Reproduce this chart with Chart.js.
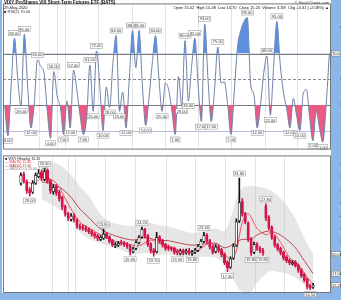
<!DOCTYPE html>
<html>
<head>
<meta charset="utf-8">
<script src="https://cdn.jsdelivr.net/npm/chart.js@4.4.1/dist/chart.umd.min.js"></script>
<style>
    html, body { margin: 0; padding: 0; background: #fff; }
    #wrap { position: relative; width: 341px; height: 300px; overflow: hidden; }
    #rsiChart { position: absolute; left: 0; top: 0; }
    #priceChart { position: absolute; left: 0; top: 152px; }
</style>
</head>
<body>
<div id="wrap">
    <canvas id="rsiChart" width="341" height="152"></canvas>
    <canvas id="priceChart" width="341" height="148"></canvas>
</div>
<script>
// ---- data (100 bars) ----
const rsiValues = [30, 6, 45, 82, 50, 29, 85, 45, 12, 30,
    65, 60, 55, 25, 4, 56, 37, 28, 7, 33,
    12, 57, 42, 22, 7, 20, 61, 25, 72, 45,
    10, 44, 28, 62, 84, 25, 40, 12, 50, 88,
    59, 88, 45, 14, 35, 62, 84, 52, 25, 47,
    42, 25, 7, 52, 29, 80, 33, 60, 82, 45,
    17, 93, 50, 17, 42, 75, 47, 48, 30, 7,
    40, 75, 88, 95, 98, 46, 38, 12, 30, 55,
    68, 22, 60, 95, 62, 40, 27, 12, 35, 22,
    10, 38, 42, 20, 2, 25, 12, 1, 29, 70];

const openPrices = [31.0, 32.4, 31.2, 30.0, 29.6, 31.0, 32.0, 32.7, 31.6, 33.0,
    31.4, 29.7, 30.5, 29.6, 28.8, 27.4, 26.3, 25.4, 26.0, 25.3,
    24.4, 24.3, 24.1, 23.9, 23.6, 23.2, 22.9, 22.3, 22.5, 23.2,
    22.7, 22.1, 21.3, 21.4, 21.9, 21.8, 21.6, 21.3, 20.4, 20.9,
    21.8, 22.7, 23.9, 22.9, 21.6, 20.6, 20.4, 22.7, 22.1, 21.5,
    21.1, 21.0, 20.9, 20.5, 20.1, 20.6, 20.2, 20.6, 20.1, 20.3,
    20.6, 21.2, 22.0, 23.0, 22.1, 21.2, 20.4, 21.2, 20.7, 20.0,
    18.8, 18.0, 19.4, 21.4, 25.2, 28.2, 26.3, 24.8, 22.4, 20.3,
    21.6, 21.0, 20.6, 27.4, 25.8, 24.2, 22.7, 21.5, 20.9, 20.3,
    19.6, 19.1, 18.5, 18.8, 18.3, 17.6, 16.9, 16.1, 15.1, 14.9];

const highPrices = [32.6, 32.7, 31.5, 30.3, 31.4, 32.6, 33.1, 33.0, 33.3, 33.2,
    31.6, 30.8, 30.8, 29.9, 29.0, 27.6, 26.5, 26.3, 26.3, 25.5,
    24.7, 24.6, 24.4, 24.1, 23.8, 23.4, 23.1, 22.9, 23.9, 23.4,
    22.9, 22.3, 21.8, 22.0, 22.2, 22.0, 21.8, 21.5, 21.1, 22.1,
    22.9, 24.2, 24.0, 23.1, 21.8, 20.9, 23.4, 22.9, 22.3, 21.7,
    21.4, 21.2, 21.1, 20.7, 20.8, 20.8, 20.8, 20.9, 20.6, 20.9,
    21.5, 22.3, 23.4, 23.2, 22.3, 21.4, 21.5, 21.4, 20.9, 20.2,
    19.0, 19.6, 21.6, 25.5, 31.8, 28.6, 26.5, 25.0, 22.6, 21.9,
    21.8, 21.2, 20.9, 27.8, 26.0, 24.4, 22.9, 21.7, 21.1, 20.5,
    19.8, 19.3, 19.0, 19.0, 18.5, 17.8, 17.1, 16.3, 15.4, 15.5];

const lowPrices = [30.7, 31.0, 29.4, 29.0, 29.4, 30.8, 31.8, 31.4, 31.4, 31.0,
    29.4, 29.3, 29.1, 28.2, 26.9, 25.9, 25.2, 25.1, 25.0, 24.0,
    23.8, 23.7, 23.5, 23.2, 22.8, 22.5, 22.1, 22.1, 22.3, 22.4,
    21.7, 21.2, 21.0, 21.2, 21.4, 21.2, 20.9, 19.9, 20.2, 20.7,
    21.6, 22.5, 22.5, 21.2, 20.2, 19.7, 20.2, 21.7, 21.1, 20.6,
    20.6, 20.5, 20.0, 19.9, 19.9, 19.9, 20.0, 19.9, 19.8, 20.1,
    20.4, 21.0, 21.8, 21.7, 20.8, 20.0, 20.2, 20.3, 19.6, 18.4,
    17.3, 17.8, 19.2, 21.2, 24.9, 25.9, 24.7, 22.0, 19.8, 20.1,
    20.6, 20.2, 19.8, 25.2, 23.8, 22.3, 21.1, 20.5, 19.9, 19.1,
    18.7, 18.4, 18.3, 18.0, 17.2, 16.4, 15.7, 14.6, 14.5, 14.7];

const closePrices = [32.2, 31.3, 29.8, 29.5, 31.0, 32.2, 32.5, 31.8, 32.8, 31.3,
    29.8, 30.3, 29.5, 28.6, 27.3, 26.2, 25.6, 25.9, 25.3, 24.3,
    24.1, 24.0, 23.8, 23.5, 23.1, 22.8, 22.5, 22.6, 23.1, 22.6,
    22.0, 21.5, 21.5, 21.7, 21.7, 21.5, 21.2, 20.5, 20.8, 21.8,
    22.6, 23.8, 22.8, 21.5, 20.5, 20.2, 22.6, 22.0, 21.4, 20.9,
    20.9, 20.8, 20.3, 20.2, 20.5, 20.2, 20.5, 20.2, 20.3, 20.6,
    21.2, 22.0, 22.9, 22.0, 21.1, 20.3, 21.1, 20.6, 19.9, 18.7,
    17.9, 19.3, 21.2, 25.0, 28.0, 26.2, 25.0, 22.3, 20.2, 21.5,
    20.9, 20.5, 20.2, 25.6, 24.1, 22.6, 21.4, 20.8, 20.2, 19.4,
    19.0, 18.7, 18.7, 18.2, 17.5, 16.7, 16.0, 14.9, 14.8, 15.2];

// bollinger band / moving averages, sampled at a few bars
const bandIdx = [7, 10, 14, 17, 20, 23, 26, 29, 33, 38, 42, 46, 50, 54, 58, 62, 66, 69, 71, 73, 75, 78, 80, 84, 87, 90, 93, 96, 99];
const upperBand = [34.0, 34.3, 33.6, 32.3, 30.5, 29.0, 26.8, 25.3, 24.6, 24.4, 25.0, 24.6, 24.3, 23.8, 23.3, 23.6, 24.0, 23.6, 25.6, 28.6, 30.3, 30.6, 30.5, 30.0, 29.1, 27.6, 25.5, 22.5, 20.0];
const lowerBand = [28.5, 27.8, 26.6, 25.3, 23.4, 22.4, 21.8, 21.4, 20.8, 20.0, 20.2, 19.9, 20.0, 19.7, 19.5, 19.6, 19.5, 18.4, 17.0, 15.2, 14.2, 14.2, 15.6, 17.3, 17.3, 17.0, 16.4, 15.3, 14.4];
const midBand = [31.2, 31.0, 30.1, 28.8, 27.0, 25.7, 24.3, 23.4, 22.7, 22.2, 22.6, 22.2, 22.1, 21.7, 21.4, 21.6, 21.7, 21.0, 21.3, 21.9, 22.3, 22.3, 23.0, 23.6, 23.2, 22.3, 21.0, 19.0, 17.0];

const fastMaIdx = [0, 4, 8, 12, 16, 20, 24, 28, 32, 36, 40, 44, 48, 52, 56, 60, 64, 68, 71, 73, 75, 77, 80, 83, 85, 88, 91, 94, 97, 99];
const fastMa = [31.5, 31.0, 31.9, 31.0, 27.8, 25.0, 23.8, 22.8, 22.0, 21.6, 21.3, 22.2, 21.5, 20.9, 20.3, 20.6, 21.7, 20.6, 19.2, 20.5, 25.0, 26.3, 24.0, 23.0, 23.5, 21.8, 19.5, 18.4, 16.4, 15.4];

// axes
const xTickPos = [10.5, 16, 18.4, 28.4, 38.7, 49, 59, 69, 79.4, 89.2];
const xTickLabels = ['30', 'Apr', '6', '13', '20', '27', 'May', '11', '18', '26'];
const rsiTicks = [10, 30, 50, 70, 90];
const rsiLevels = [70, 50, 30, 10];
const priceTicks = [14, 15, 16, 17, 18, 19, 20, 21, 22, 23, 24, 25, 26, 27, 28, 29, 30, 31, 32, 33, 34, 35];

const titleText = 'VIXY ProShares VIX Short-Term Futures ETF (BATS)';
const dateText = '29-May-2020';
const rsiLabel = '\u25A0 RSI(2) 70.00';
const siteText = '\u00A9 StockCharts.com';
const quoteText = 'Open 15.02  High 15.48  Low 14.70  Close 15.20  Volume 3.1M  Chg +0.31 (+2.08%) \u25B2';
const legendLines = ['\u25A0 VIXY (Hourly) 15.20', '\u2014 MA(10) 15.40', '\u2014 MA(50) 17.00', '\u2014 BB(20,2.0) 20.00, 14.40'];

// colours
const STRIP = '#8db6e8';
const GRID = '#e3e3e3';
const RSI_LINE = '#6f82a8';
const BLUE_FILL = '#5d8fdc';
const PINK_FILL = '#ea5a83';
const CANDLE_RED = '#d3164a';
const CANDLE_BLACK = '#111';
const BAND = 'rgba(205, 205, 205, 0.5)';
const MA_FAST = '#e8323c';
const MA_SLOW = '#b0202a';
const FONT = '"Liberation Sans", Arial, sans-serif';

function drawTag(ctx, text, cx, cy) {
    ctx.font = '4px ' + FONT;
    const w = ctx.measureText(text).width + 2;
    const h = 5;
    ctx.fillStyle = '#fff';
    ctx.fillRect(cx - w / 2, cy - h / 2, w, h);
    ctx.strokeStyle = '#8a8a8a';
    ctx.lineWidth = 0.5;
    ctx.strokeRect(cx - w / 2, cy - h / 2, w, h);
    ctx.fillStyle = '#333';
    ctx.textAlign = 'center';
    ctx.textBaseline = 'middle';
    ctx.fillText(text, cx, cy + 0.3);
}

function drawAxisBox(ctx, text, left, cy, w) {
    ctx.font = '4px ' + FONT;
    ctx.fillStyle = '#fff';
    ctx.fillRect(left + 0.5, cy - 2.5, w - 1, 5);
    ctx.strokeStyle = '#666';
    ctx.lineWidth = 0.5;
    ctx.strokeRect(left + 0.5, cy - 2.5, w - 1, 5);
    ctx.fillStyle = '#111';
    ctx.textAlign = 'left';
    ctx.textBaseline = 'middle';
    ctx.fillText(text, left + 1, cy + 0.3);
}

function drawVerticalGrid(chart) {
    const { ctx, chartArea: a, scales: { x } } = chart;
    ctx.strokeStyle = GRID;
    ctx.lineWidth = 1;
    xTickPos.forEach(p => {
        const px = Math.round(x.getPixelForValue(p)) + 0.5;
        ctx.beginPath();
        ctx.moveTo(px, a.top);
        ctx.lineTo(px, a.bottom);
        ctx.stroke();
    });
}

// ---- RSI panel ----
const rsiPoints = rsiValues.map((v, i) => ({ x: i, y: v }));

const rsiDecor = {
    id: 'rsiDecor',
    beforeDraw(chart) {
        const { ctx, chartArea: a, width, height } = chart;
        ctx.save();
        ctx.fillStyle = '#fff';
        ctx.fillRect(0, 0, width, height);
        ctx.fillStyle = STRIP;
        ctx.fillRect(a.right, 0, width - a.right, height);
        ctx.fillRect(0, 0, 2, height);
        ctx.restore();
    },
    beforeDatasetsDraw(chart) {
        const { ctx, chartArea: a, scales: { y } } = chart;
        ctx.save();
        drawVerticalGrid(chart);
        rsiLevels.forEach(level => {
            const py = Math.round(y.getPixelForValue(level)) + 0.5;
            ctx.beginPath();
            if (level === 50) {
                ctx.setLineDash([3, 2]);
                ctx.strokeStyle = '#8a8a8a';
            } else if (level === 10) {
                ctx.setLineDash([]);
                ctx.strokeStyle = '#b9b9e4';
            } else {
                ctx.setLineDash([]);
                ctx.strokeStyle = '#7a7a7a';
            }
            ctx.lineWidth = 1;
            ctx.moveTo(a.left, py);
            ctx.lineTo(a.right, py);
            ctx.stroke();
        });
        ctx.restore();
    },
    afterDatasetsDraw(chart) {
        const { ctx, scales: { x, y } } = chart;
        ctx.save();
        for (let i = 1; i < rsiValues.length - 1; i++) {
            const v = rsiValues[i];
            const px = x.getPixelForValue(i);
            if (v > rsiValues[i - 1] && v >= rsiValues[i + 1] && v > 55) {
                drawTag(ctx, v.toFixed(2), px, y.getPixelForValue(v) - 5);
            } else if (v < rsiValues[i - 1] && v <= rsiValues[i + 1] && v < 45) {
                drawTag(ctx, v.toFixed(2), px, y.getPixelForValue(v) + 5);
            }
        }
        ctx.restore();
    },
    afterDraw(chart) {
        const { ctx, chartArea: a, width, scales: { y } } = chart;
        ctx.save();
        ctx.strokeStyle = '#777';
        ctx.lineWidth = 1;
        ctx.strokeRect(a.left + 0.5, a.top + 0.5, a.right - a.left - 1, a.bottom - a.top);
        ctx.fillStyle = '#111';
        ctx.textBaseline = 'top';
        ctx.textAlign = 'left';
        ctx.font = 'bold 4.5px ' + FONT;
        ctx.fillText(titleText, 4, 1);
        ctx.font = '4px ' + FONT;
        ctx.fillText(dateText, 4, 5.5);
        ctx.fillStyle = '#333';
        ctx.fillText(rsiLabel, 4, 9.5);
        ctx.textAlign = 'right';
        ctx.fillStyle = '#444';
        ctx.fillText(siteText, a.right - 2, 1);
        ctx.fillStyle = '#111';
        ctx.fillText(quoteText, a.right - 2, 5.5);
        const last = rsiValues[rsiValues.length - 1];
        drawAxisBox(ctx, last.toFixed(1), a.right, y.getPixelForValue(last), width - a.right);
        ctx.restore();
    }
};

new Chart(document.getElementById('rsiChart'), {
    type: 'line',
    data: {
        datasets: [
            {
                label: 'overbought',
                data: rsiPoints,
                borderWidth: 0,
                pointRadius: 0,
                cubicInterpolationMode: 'monotone',
                fill: { target: { value: 70 }, above: BLUE_FILL, below: 'rgba(0,0,0,0)' }
            },
            {
                label: 'RSI',
                data: rsiPoints,
                borderColor: RSI_LINE,
                borderWidth: 1,
                pointRadius: 0,
                cubicInterpolationMode: 'monotone',
                fill: { target: { value: 30 }, above: 'rgba(0,0,0,0)', below: PINK_FILL }
            }
        ]
    },
    options: {
        responsive: false,
        animation: false,
        devicePixelRatio: 1,
        events: [],
        layout: { padding: { left: 3, top: 1, bottom: 1, right: 0 } },
        plugins: { legend: { display: false }, tooltip: { enabled: false } },
        scales: {
            x: { type: 'linear', min: -0.5, max: 99.5, display: false },
            y: {
                type: 'linear',
                position: 'right',
                min: -4,
                max: 109,
                afterBuildTicks: scale => { scale.ticks = rsiTicks.map(v => ({ value: v })); },
                afterFit: scale => { scale.width = 10; },
                grid: { display: false },
                border: { display: false },
                ticks: { font: { size: 4, family: FONT }, color: '#222', padding: 1 }
            }
        }
    },
    plugins: [rsiDecor]
});

// ---- price panel ----
const candleColors = closePrices.map((c, i) => c < openPrices[i] ? CANDLE_RED : CANDLE_BLACK);
const bodyFill = closePrices.map((c, i) => c < openPrices[i] ? CANDLE_RED : '#fff');

const priceDecor = {
    id: 'priceDecor',
    beforeDraw(chart) {
        const { ctx, chartArea: a, width, height } = chart;
        ctx.save();
        ctx.fillStyle = '#fff';
        ctx.fillRect(0, 0, width, height);
        ctx.fillStyle = STRIP;
        ctx.fillRect(a.right, 0, width - a.right, height);
        ctx.fillRect(0, a.bottom, width, height - a.bottom);
        ctx.fillRect(0, 0, 2, height);
        ctx.restore();
    },
    beforeDatasetsDraw(chart) {
        chart.ctx.save();
        drawVerticalGrid(chart);
        chart.ctx.restore();
    },
    afterDatasetsDraw(chart) {
        const { ctx, scales: { x, y } } = chart;
        ctx.save();
        const n = closePrices.length;
        for (let i = 2; i < n - 1; i++) {
            const from = Math.max(0, i - 4);
            const to = Math.min(n, i + 5);
            const hs = highPrices.slice(from, to);
            const ls = lowPrices.slice(from, to);
            const px = x.getPixelForValue(i);
            if (hs.every(h => h <= highPrices[i])) {
                drawTag(ctx, highPrices[i].toFixed(2), px, y.getPixelForValue(highPrices[i]) - 4.5);
            } else if (ls.every(l => l >= lowPrices[i])) {
                drawTag(ctx, lowPrices[i].toFixed(2), px, y.getPixelForValue(lowPrices[i]) + 4.5);
            }
        }
        ctx.restore();
    },
    afterDraw(chart) {
        const { ctx, chartArea: a, width, scales: { y } } = chart;
        ctx.save();
        ctx.strokeStyle = '#777';
        ctx.lineWidth = 1;
        ctx.strokeRect(a.left + 0.5, a.top + 0.5, a.right - a.left - 1, a.bottom - a.top - 1);
        ctx.font = '3.6px ' + FONT;
        ctx.textAlign = 'left';
        ctx.textBaseline = 'top';
        const legendColors = ['#111', MA_FAST, MA_SLOW, '#777'];
        legendLines.forEach((t, k) => {
            ctx.fillStyle = legendColors[k];
            ctx.fillText(t, a.left + 2, a.top + 2 + k * 3.2);
        });
        const boxW = width - a.right;
        drawAxisBox(ctx, upperBand[upperBand.length - 1].toFixed(2), a.right, y.getPixelForValue(upperBand[upperBand.length - 1]), boxW);
        drawAxisBox(ctx, midBand[midBand.length - 1].toFixed(2), a.right, y.getPixelForValue(midBand[midBand.length - 1]), boxW);
        drawAxisBox(ctx, closePrices[closePrices.length - 1].toFixed(2), a.right, y.getPixelForValue(closePrices[closePrices.length - 1]), boxW);
        ctx.restore();
    }
};

new Chart(document.getElementById('priceChart'), {
    type: 'bar',
    data: {
        datasets: [
            {
                type: 'line',
                label: 'BB upper',
                data: bandIdx.map((v, k) => ({ x: v, y: upperBand[k] })),
                borderWidth: 0,
                pointRadius: 0,
                tension: 0.3,
                backgroundColor: BAND,
                fill: '+1',
                order: 10
            },
            {
                type: 'line',
                label: 'BB lower',
                data: bandIdx.map((v, k) => ({ x: v, y: lowerBand[k] })),
                borderWidth: 0,
                pointRadius: 0,
                tension: 0.3,
                fill: false,
                order: 9
            },
            {
                type: 'line',
                label: 'MA slow',
                data: bandIdx.map((v, k) => ({ x: v, y: midBand[k] })),
                borderColor: MA_SLOW,
                borderWidth: 0.8,
                pointRadius: 0,
                tension: 0.3,
                fill: false,
                order: 3
            },
            {
                type: 'line',
                label: 'MA fast',
                data: fastMaIdx.map((v, k) => ({ x: v, y: fastMa[k] })),
                borderColor: MA_FAST,
                borderWidth: 0.8,
                pointRadius: 0,
                tension: 0.3,
                fill: false,
                order: 2
            },
            {
                label: 'wick',
                data: closePrices.map((c, i) => ({ x: i, y: [lowPrices[i], highPrices[i]] })),
                backgroundColor: candleColors,
                barThickness: 1,
                grouped: false,
                order: 1
            },
            {
                label: 'body',
                data: closePrices.map((c, i) => ({ x: i, y: [Math.min(openPrices[i], c), Math.max(openPrices[i], c)] })),
                backgroundColor: bodyFill,
                borderColor: candleColors,
                borderWidth: 0.7,
                borderSkipped: false,
                barThickness: 2.4,
                grouped: false,
                order: 0
            }
        ]
    },
    options: {
        responsive: false,
        animation: false,
        devicePixelRatio: 1,
        events: [],
        layout: { padding: { left: 3, top: 0, bottom: 0, right: 0 } },
        plugins: { legend: { display: false }, tooltip: { enabled: false } },
        scales: {
            x: {
                type: 'linear',
                min: -0.5,
                max: 99.5,
                afterBuildTicks: scale => { scale.ticks = xTickPos.map(v => ({ value: v })); },
                afterFit: scale => { scale.height = 7; },
                grid: { display: false },
                border: { display: false },
                ticks: {
                    autoSkip: false,
                    maxRotation: 0,
                    padding: 1,
                    font: { size: 4.5, family: FONT },
                    color: '#222',
                    callback: (v, i) => xTickLabels[i]
                }
            },
            y: {
                type: 'linear',
                position: 'right',
                min: 14,
                max: 35.3,
                afterBuildTicks: scale => { scale.ticks = priceTicks.map(v => ({ value: v })); },
                afterFit: scale => { scale.width = 10; },
                grid: { display: false },
                border: { display: false },
                ticks: { font: { size: 4, family: FONT }, color: '#222', padding: 1 }
            }
        }
    },
    plugins: [priceDecor]
});
</script>
</body>
</html>
